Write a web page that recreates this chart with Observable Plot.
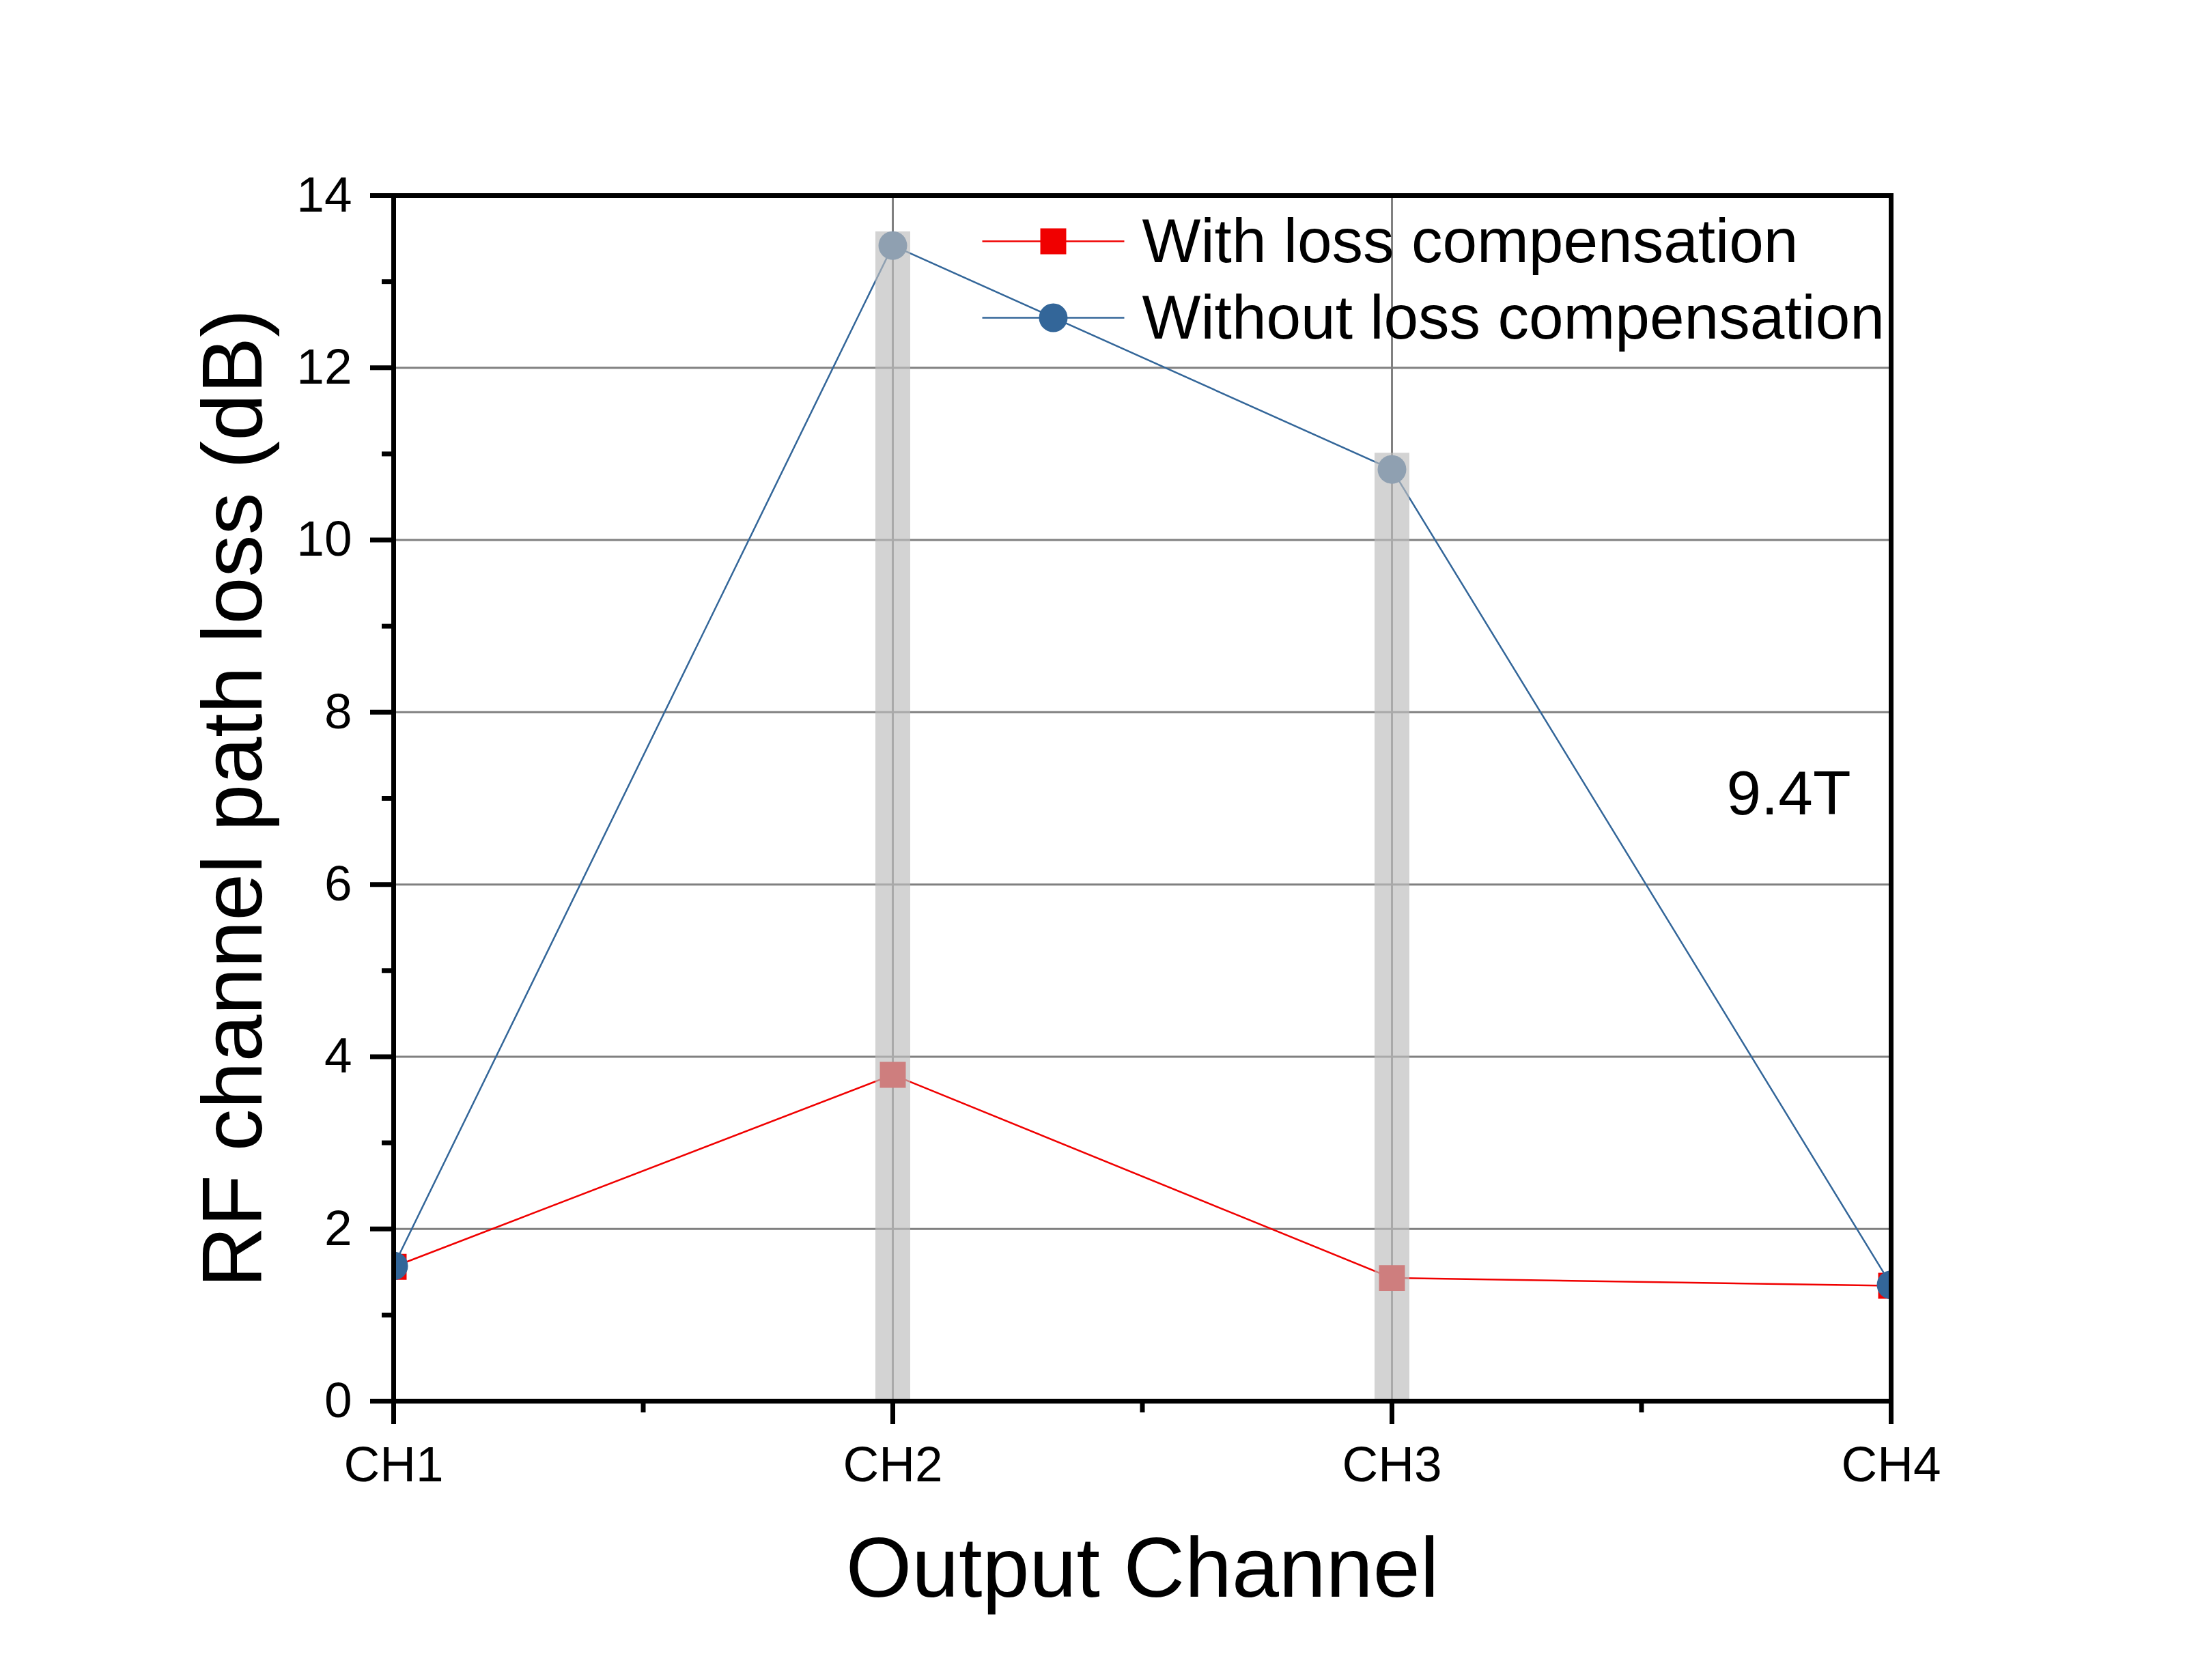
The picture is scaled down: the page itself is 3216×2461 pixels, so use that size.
<!DOCTYPE html>
<html><head><meta charset="utf-8">
<script src="https://cdn.jsdelivr.net/npm/d3@7"></script>
<script src="https://cdn.jsdelivr.net/npm/@observablehq/plot@0.6"></script>
<style>body{margin:0;background:#fff}</style>
</head><body><div id="chart"></div>
<script>
const categories = ["CH1", "CH2", "CH3", "CH4"];
const withComp = [1.56, 3.79, 1.43, 1.34];
const withoutComp = [1.57, 13.42, 10.82, 1.35];
const bandChannels = ["CH2", "CH3"];
const bandTops = [13.58, 11.01];
const yMajorTicks = [0, 2, 4, 6, 8, 10, 12, 14];
const yMinorTicks = [1, 3, 5, 7, 9, 11, 13];
const xMinorTicks = [0.5, 1.5, 2.5];
const seriesNames = ["With loss compensation", "Without loss compensation"];
const annotation = "9.4T";
const xTitle = "Output Channel";
const yTitle = "RF channel path loss (dB)";

const RED = "#F00000";
const BLUE = "#336699";
const FONT = "'Liberation Sans', Arial, sans-serif";

const idx = c => categories.indexOf(c);
const redData = categories.map((c, i) => ({x: i, y: withComp[i]}));
const blueData = categories.map((c, i) => ({x: i, y: withoutComp[i]}));
const bands = bandChannels.map((c, i) => ({x: idx(c), top: bandTops[i]}));

const lineSymbol = {draw(ctx) { ctx.moveTo(-104, 0); ctx.lineTo(104, 0); }};

const axisCommon = {stroke: "black", strokeWidth: 7, fill: "black", fontSize: 73, label: null};

const chart = Plot.plot({
  width: 3216,
  height: 2461,
  marginLeft: 576,
  marginRight: 447,
  marginTop: 286,
  marginBottom: 409,
  style: {fontFamily: FONT, background: "#fff", color: "black", overflow: "visible"},
  x: {domain: [0, 3]},
  y: {domain: [0, 14]},
  marks: [
    Plot.gridY(yMajorTicks, {stroke: "#808080", strokeOpacity: 1, strokeWidth: 3}),
    Plot.gridX([0, 1, 2, 3], {stroke: "#808080", strokeOpacity: 1, strokeWidth: 3}),
    Plot.line(redData, {x: "x", y: "y", stroke: RED, strokeWidth: 2.5, clip: true}),
    Plot.dot(redData, {x: "x", y: "y", symbol: "square", r: 21.4, fill: RED, stroke: "none", clip: true}),
    Plot.line(blueData, {x: "x", y: "y", stroke: BLUE, strokeWidth: 2.5, clip: true}),
    Plot.dot(blueData, {x: "x", y: "y", symbol: "circle", r: 21, fill: BLUE, stroke: "none", clip: true}),
    Plot.ruleX(bands, {x: "x", y1: 0, y2: "top", stroke: "#BDBDBD", strokeOpacity: 0.667, strokeWidth: 51}),
    // legend
    Plot.dot([seriesNames[0]], {frameAnchor: "top-left", dx: 966, dy: 67, symbol: lineSymbol, stroke: RED, strokeWidth: 2.5, fill: "none"}),
    Plot.dot([seriesNames[0]], {frameAnchor: "top-left", dx: 966, dy: 67, symbol: "square", r: 21.4, fill: RED, stroke: "none"}),
    Plot.text([seriesNames[0]], {frameAnchor: "top-left", dx: 1096, dy: 68, text: d => d, textAnchor: "start", lineAnchor: "middle", fontSize: 91, fill: "black"}),
    Plot.dot([seriesNames[1]], {frameAnchor: "top-left", dx: 966, dy: 179, symbol: lineSymbol, stroke: BLUE, strokeWidth: 2.5, fill: "none"}),
    Plot.dot([seriesNames[1]], {frameAnchor: "top-left", dx: 966, dy: 179, symbol: "circle", r: 21, fill: BLUE, stroke: "none"}),
    Plot.text([seriesNames[1]], {frameAnchor: "top-left", dx: 1096, dy: 180, text: d => d, textAnchor: "start", lineAnchor: "middle", fontSize: 91, fill: "black"}),
    // annotation
    Plot.text([annotation], {frameAnchor: "top-right", dx: -59, dy: 877, text: d => d, textAnchor: "end", lineAnchor: "middle", fontSize: 91, fill: "black"}),
    // frame and axes
    Plot.frame({stroke: "black", strokeWidth: 7}),
    Plot.axisY(yMajorTicks, {...axisCommon, anchor: "left", tickSize: 34, tickPadding: 27, tickFormat: d => String(d)}),
    Plot.axisY(yMinorTicks, {...axisCommon, anchor: "left", tickSize: 17, tickFormat: () => ""}),
    Plot.axisX([0, 1, 2, 3], {...axisCommon, anchor: "bottom", tickSize: 34, tickPadding: 32, tickFormat: i => categories[i]}),
    Plot.axisX(xMinorTicks, {...axisCommon, anchor: "bottom", tickSize: 17, tickFormat: () => ""}),
    // titles
    Plot.text([yTitle], {frameAnchor: "left", dx: -233, rotate: -90, text: d => d, textAnchor: "middle", lineAnchor: "middle", fontSize: 124, fill: "black"}),
    Plot.text([xTitle], {frameAnchor: "bottom", dy: 247, text: d => d, textAnchor: "middle", lineAnchor: "middle", fontSize: 124, fill: "black"})
  ]
});
document.getElementById("chart").appendChild(chart);
</script>
</body></html>
